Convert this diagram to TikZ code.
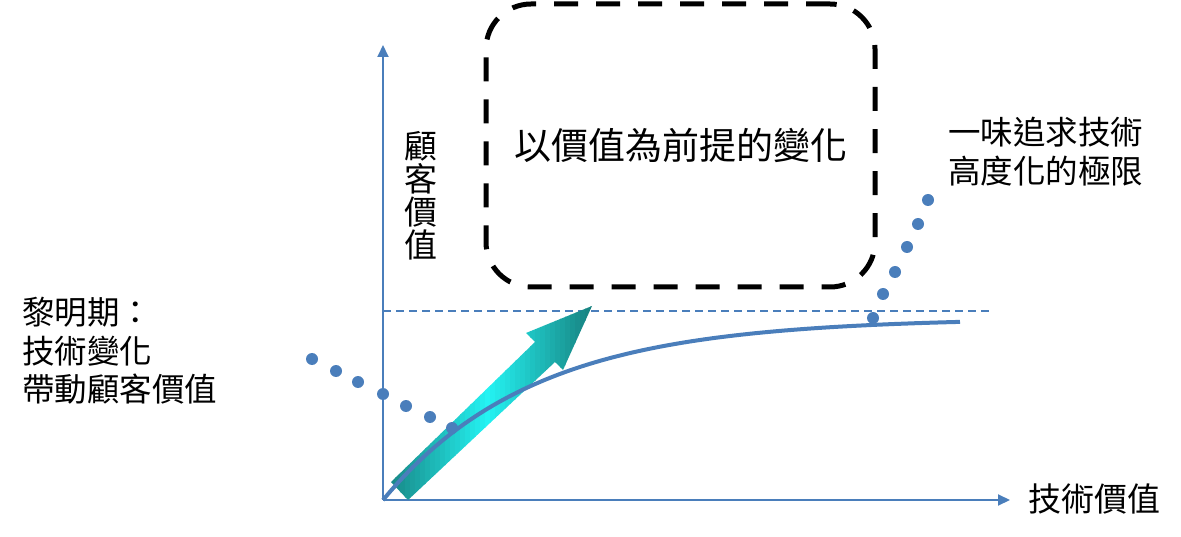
\documentclass[tikz,border=0pt]{standalone}
\usepackage{fontspec}
\setmainfont{Noto Sans CJK TC}
\usetikzlibrary{arrows.meta}
\definecolor{axblue}{HTML}{4A7EBB}
\definecolor{tealdk}{HTML}{17807E}
\definecolor{tealbr}{HTML}{24F4F4}

\begin{document}
\begin{tikzpicture}[x=1pt, y=-1pt,
  ax/.style={draw=axblue, line width=2pt, -{Triangle[length=12pt,width=11pt]}},
  lbl/.style={inner sep=0pt, font=\fontsize{32.5}{38.5}\selectfont, align=left},
  box/.style={draw=black, line width=5pt, dash pattern=on 24pt off 18pt, rounded corners=45pt,
    inner sep=0pt, minimum width=389pt, minimum height=283pt, font=\fontsize{37}{40}\selectfont}]
 \useasboundingbox (0,0) rectangle (1181,537);
 % axes
 \coordinate (o) at (383,500);
 \coordinate (ytop) at (383,45);
 \coordinate (xend) at (1010,500);
 \coordinate (lima) at (383,311);
 \coordinate (limb) at (993,311);
 \draw[ax] (o) -- (ytop);
 \draw[ax] (o) -- (xend);
 \draw[axblue, line width=1.5pt, dash pattern=on 8pt off 5pt] (lima) -- (limb);
 % labels
 \node[lbl, font=\fontsize{33}{33}\selectfont, align=center] (yval) at (421,196) {顧\\客\\價\\值};
 \node[lbl, font=\fontsize{33}{33}\selectfont, anchor=west] (xval) at (1028,499) {技術價值};
 \node[lbl, anchor=west] (dawn) at (22,351) {黎明期：\\技術變化\\帶動顧客價值};
 \node[lbl, anchor=west] (limit) at (948,151.5) {一味追求技術\\高度化的極限};
 \node[box] (chg) at (680.5,145.5) {以價值為前提的變化};
 % big arrow, gradient built from thin strips
 \begin{scope}
  \clip (391,482) -- (535,342) -- (526,333) -- (592,306) -- (563,370) -- (555,362) -- (408,500) -- cycle;
  \foreach \i in {0,...,40} {
   \pgfmathsetmacro\xa{390+5*\i}
   \pgfmathtruncatemacro\mx{max(0,100-100*abs(\xa+2.5-488)/105)}
   \fill[tealbr!\mx!tealdk] (\xa,300) rectangle (\xa+5.6,502);
  }
 \end{scope}
 % value curve
 \draw[axblue, line width=4pt] plot[domain=0:577, samples=80] ({383+\x},{500-182*(1-exp(-\x/150))});
 % dots
 \foreach \p in {(312,359),(336,371),(358,382),(383,394),(406,406),(430,417),(452,428),
                 (873,318),(883,294),(895,272),(907,247),(918,224),(928,200)}
  \fill[axblue] \p circle[radius=6pt];
\end{tikzpicture}
\end{document}
